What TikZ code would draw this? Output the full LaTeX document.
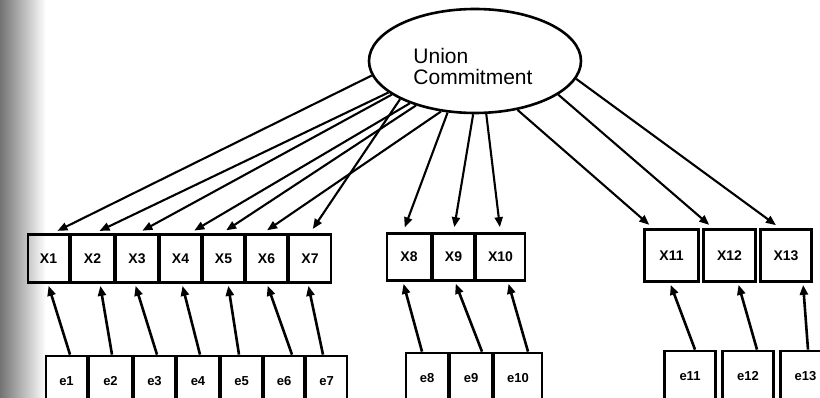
\documentclass[tikz,border=0pt]{standalone}
\usepackage{fontspec}
\setmainfont{Liberation Sans}
\usetikzlibrary{arrows.meta,shapes.geometric}
\begin{document}
\begin{tikzpicture}[x=1pt,y=-1pt,
  xbox/.style={draw, line width=2.8pt, inner sep=0pt, font=\fontsize{14}{14}\selectfont\bfseries},
  ebox/.style={draw, line width=2.8pt, inner sep=0pt, font=\fontsize{13}{13}\selectfont\bfseries},
  link/.style={line width=2.1pt, -{Triangle[length=10pt,width=8pt]}, shorten >=5pt},
  err/.style={line width=2.6pt, -{Triangle[length=10pt,width=8pt]}, shorten >=2pt}]
\useasboundingbox (0,0) rectangle (820,398);
\clip (0,0) rectangle (820,398);
\shade[left color=black!55, right color=white] (0,0) rectangle (46,398);

% latent variable
\node[draw, ellipse, line width=2.6pt, minimum width=212pt, minimum height=104pt, inner sep=0pt] (U) at (475,61) {};
\node[align=left, font=\fontsize{21}{21}\selectfont, inner sep=0pt] (UT) at (473,66) {Union\\Commitment};

% indicators
\node[xbox, minimum width=41pt, minimum height=48pt] (X1) at (48.5,258.5) {X1};
\node[xbox, minimum width=43pt, minimum height=48pt] (X2) at (92.5,258.5) {X2};
\node[xbox, minimum width=42pt, minimum height=48pt] (X3) at (137,258.5) {X3};
\node[xbox, minimum width=41pt, minimum height=48pt] (X4) at (180.5,258.5) {X4};
\node[xbox, minimum width=41pt, minimum height=48pt] (X5) at (223.5,258.5) {X5};
\node[xbox, minimum width=41pt, minimum height=48pt] (X6) at (266.5,258.5) {X6};
\node[xbox, minimum width=42pt, minimum height=48pt] (X7) at (310,258.5) {X7};
\node[xbox, minimum width=44pt, minimum height=47pt] (X8) at (409,257) {X8};
\node[xbox, minimum width=41pt, minimum height=47pt] (X9) at (453.5,257) {X9};
\node[xbox, minimum width=49pt, minimum height=47pt] (X10) at (500.5,257) {X10};
\node[xbox, minimum width=54pt, minimum height=52pt] (X11) at (671.5,255.5) {X11};
\node[xbox, minimum width=52pt, minimum height=52pt] (X12) at (729.5,255.5) {X12};
\node[xbox, minimum width=51pt, minimum height=52pt] (X13) at (786,255.5) {X13};

% errors
\node[ebox, minimum width=41pt, minimum height=50pt] (e1) at (66.5,381) {e1};
\node[ebox, minimum width=43pt, minimum height=50pt] (e2) at (110.5,381) {e2};
\node[ebox, minimum width=41pt, minimum height=50pt] (e3) at (154.5,381) {e3};
\node[ebox, minimum width=42pt, minimum height=50pt] (e4) at (198,381) {e4};
\node[ebox, minimum width=41pt, minimum height=50pt] (e5) at (241.5,381) {e5};
\node[ebox, minimum width=40pt, minimum height=50pt] (e6) at (284,381) {e6};
\node[ebox, minimum width=41pt, minimum height=50pt] (e7) at (326.5,381) {e7};
\node[ebox, minimum width=42pt, minimum height=50pt] (e8) at (427,378) {e8};
\node[ebox, minimum width=42pt, minimum height=50pt] (e9) at (471,378) {e9};
\node[ebox, minimum width=48pt, minimum height=50pt] (e10) at (518,378) {e10};
\node[ebox, minimum width=51pt, minimum height=50pt] (e11) at (690,376) {e11};
\node[ebox, minimum width=51pt, minimum height=50pt] (e12) at (748,376) {e12};
\node[ebox, minimum width=50pt, minimum height=50pt] (e13) at (805.5,376) {e13};

% loadings
\draw[link] (U.188) -- ([xshift=4.5pt]X1.north);
\draw[link] (U.200) -- ([xshift=2.5pt]X2.north);
\draw[link] (U.202) -- ([xshift=1pt]X3.north);
\draw[link] (U.213) -- ([xshift=9.5pt]X4.north);
\draw[link] (U.217) -- ([xshift=-1.5pt]X5.north);
\draw[link] (U.236) -- ([xshift=-3.5pt]X6.north);
\draw[link] (U.207) -- (X7.north);
\draw[link] (U.242) -- ([xshift=-6pt]X8.north);
\draw[link] (U.268) -- (X9.north);
\draw[link] (U.282) -- (X10.north);
\draw[link] (U.311) -- ([xshift=-18.5pt]X11.north);
\draw[link] (U.338.6) -- ([xshift=-16.5pt]X12.north);
\draw[link] (U.350.6) -- ([xshift=-6pt]X13.north);

% error paths
\draw[err] ([xshift=3.5pt]e1.north) -- ([xshift=-0.5pt]X1.south);
\draw[err] ([xshift=1.5pt]e2.north) -- ([xshift=7.5pt]X2.south);
\draw[err] ([xshift=2.5pt]e3.north) -- ([xshift=-2pt]X3.south);
\draw[err] ([xshift=2pt]e4.north) -- ([xshift=1.5pt]X4.south);
\draw[err] ([xshift=-2.5pt]e5.north) -- ([xshift=4.5pt]X5.south);
\draw[err] ([xshift=8pt]e6.north) -- ([xshift=0.5pt]X6.south);
\draw[err] ([xshift=-3.5pt]e7.north) -- ([xshift=-2pt]X7.south);
\draw[err] ([xshift=-5pt]e8.north) -- ([xshift=-6pt]X8.south);
\draw[err] ([xshift=11pt]e9.north) -- ([xshift=1.5pt]X9.south);
\draw[err] ([xshift=10pt]e10.north) -- ([xshift=7.5pt]X10.south);
\draw[err] ([xshift=5pt]e11.north) -- ([xshift=-1.5pt]X11.south);
\draw[err] ([xshift=9pt]e12.north) -- ([xshift=8.5pt]X12.south);
\draw[err] ([xshift=2.5pt]e13.north) -- ([xshift=17pt]X13.south);
\end{tikzpicture}
\end{document}
